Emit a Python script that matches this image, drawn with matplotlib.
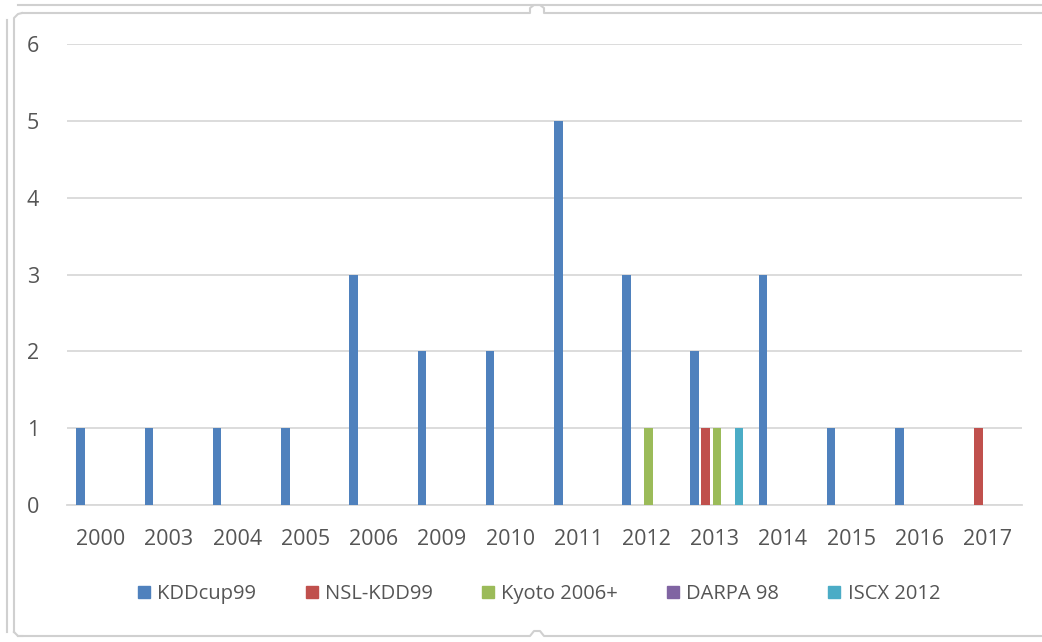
import matplotlib
matplotlib.use("Agg")
import matplotlib.pyplot as plt
import numpy as np
from matplotlib.lines import Line2D

plt.rcParams['font.family'] = ['Open Sans', 'DejaVu Sans']

years = ['2000', '2003', '2004', '2005', '2006', '2009', '2010', '2011',
         '2012', '2013', '2014', '2015', '2016', '2017']
kddcup99 = [1, 1, 1, 1, 3, 2, 2, 5, 3, 2, 3, 1, 1, 0]
nsl_kdd99 = [0, 0, 0, 0, 0, 0, 0, 0, 0, 1, 0, 0, 0, 1]
kyoto = [0, 0, 0, 0, 0, 0, 0, 0, 1, 1, 0, 0, 0, 0]
darpa98 = [0, 0, 0, 0, 0, 0, 0, 0, 0, 0, 0, 0, 0, 0]
iscx2012 = [0, 0, 0, 0, 0, 0, 0, 0, 0, 1, 0, 0, 0, 0]

series = [('KDDcup99', kddcup99, '#4F81BD'),
          ('NSL-KDD99', nsl_kdd99, '#C0504D'),
          ('Kyoto 2006+', kyoto, '#9BBB59'),
          ('DARPA 98', darpa98, '#8064A2'),
          ('ISCX 2012', iscx2012, '#4BACC6')]

W, H = 1042, 642
fig = plt.figure(figsize=(W/100, H/100), dpi=100)
ax = fig.add_axes([66.7/W, 1-505/H, (1021.7-66.7)/W, (505-44.3)/H])

x = np.arange(len(years))
step = 0.162
bw = 0.125
handles = []
for i, (name, vals, col) in enumerate(series):
    ax.bar(x + (i-2)*step + 0.03, vals, width=bw, color=col, zorder=3)
    handles.append(Line2D([], [], marker='s', linestyle='none', markersize=9,
                          markerfacecolor=col, markeredgecolor=col, label=name))

ax.set_xlim(-0.5, len(years)-0.5)
ax.set_ylim(0, 6)
ax.set_yticks(range(0, 7))
ax.set_xticks(x)
ax.set_xticklabels(years)
ax.grid(axis='y', color='#d9d9d9', linewidth=1.3, zorder=0)
for s in ['top', 'right', 'left']:
    ax.spines[s].set_visible(False)
ax.spines['bottom'].set_color('#d9d9d9')
ax.spines['bottom'].set_linewidth(1.3)
ax.tick_params(axis='both', length=0, colors='#555555', labelsize=15.5)
ax.tick_params(axis='x', pad=17)
ax.tick_params(axis='y', pad=20)

fig.legend(handles=handles, loc='center', bbox_to_anchor=(538/W, 1-594/H),
           ncol=5, frameon=False, fontsize=14.5, handlelength=0.8,
           handletextpad=0.25, columnspacing=2.35, labelcolor='#555555')

# chart frame (selection style)
c = '#d0d0d0'
def line(xs, ys, lw=1.5):
    fig.add_artist(Line2D([v/W for v in xs], [1-v/H for v in ys], color=c, lw=lw))
line([18, 1042], [5, 5])
line([22, 530, 530, 534, 540, 544, 544, 1042], [13, 13, 8, 5, 5, 8, 13, 13])
line([7, 7], [20, 632])
line([14, 14, 18, 22], [632, 18, 14, 13])
line([18, 530, 534, 540, 544, 1042], [636, 636, 631, 631, 636, 636])
line([14, 18, 22], [632, 636, 636])

fig.savefig('out.png', dpi=100)
